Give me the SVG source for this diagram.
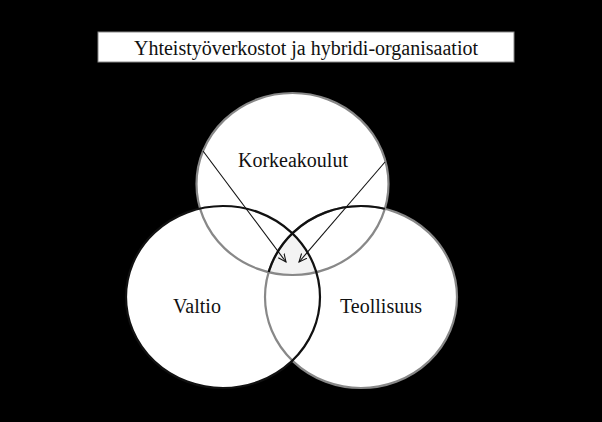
<svg xmlns="http://www.w3.org/2000/svg" width="602" height="422" viewBox="0 0 602 422">
<style>
text{font-family:"Liberation Serif","Times New Roman",serif;font-size:20px;fill:#111;text-anchor:middle}
.c{fill:#fff}
.o{fill:none;stroke-width:2.2}
</style>
<defs>
<clipPath id="cTop"><ellipse cx="292.5" cy="184" rx="96" ry="91"/></clipPath>
<clipPath id="cLeft"><ellipse cx="223" cy="297" rx="97" ry="91"/></clipPath>
<marker id="ah" viewBox="0 0 10 10" refX="9" refY="5" markerWidth="9" markerHeight="9" orient="auto" markerUnits="userSpaceOnUse"><path d="M0,1 L9,5 L0,9" fill="none" stroke="#111" stroke-width="1.2"/></marker>
</defs>
<rect width="602" height="422" fill="#000"/>
<g id="title"><rect x="98" y="32" width="416" height="30" fill="#fff" stroke="#888" stroke-width="1"/><text x="306" y="55">Yhteistyöverkostot ja hybridi-organisaatiot</text></g>
<g id="korkeakoulut"><ellipse class="c" cx="292.5" cy="184" rx="96" ry="91"/></g>
<g id="valtio"><ellipse class="c" cx="223" cy="297" rx="97" ry="91"/></g>
<g id="teollisuus"><ellipse class="c" cx="361" cy="297" rx="96" ry="91"/></g>
<g clip-path="url(#cTop)"><ellipse cx="361" cy="297" rx="96" ry="91" fill="#f3f3f3" clip-path="url(#cLeft)"/></g>
<ellipse class="o" cx="292.5" cy="184" rx="96" ry="91" stroke="#888"/>
<ellipse class="o" cx="361" cy="297" rx="96" ry="91" stroke="#888"/>
<g clip-path="url(#cTop)"><ellipse class="o" cx="361" cy="297" rx="96" ry="91" stroke="#111"/></g>
<ellipse class="o" cx="223" cy="297" rx="97" ry="91" stroke="#111"/>
<text x="293" y="167">Korkeakoulut</text>
<text x="197" y="313">Valtio</text>
<text x="381" y="313">Teollisuus</text>
<g id="connectors" stroke="#111" stroke-width="1.1" fill="none">
<line x1="203" y1="151" x2="286" y2="262" marker-end="url(#ah)"/>
<line x1="385" y1="162" x2="299" y2="262" marker-end="url(#ah)"/>
</g>
</svg>
